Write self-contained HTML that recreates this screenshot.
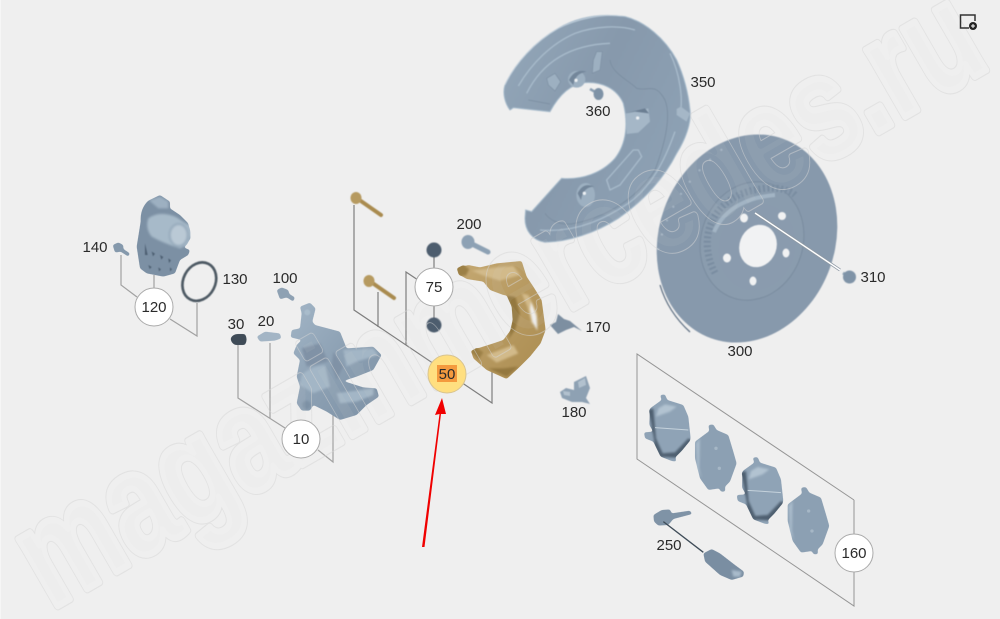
<!DOCTYPE html>
<html><head><meta charset="utf-8"><style>
html,body{margin:0;padding:0;background:#efefef}
svg{display:block}
text{font-family:"Liberation Sans",sans-serif;font-size:15px;fill:#2a2a2a;text-anchor:middle}
.l{fill:none;stroke:#a2a2a2;stroke-width:1.2}
.d{fill:none;stroke:#7e7e7e;stroke-width:1.2}
.p{fill:none;stroke:#959595;stroke-width:1}
.c{fill:#fff;stroke:#aaa;stroke-width:1}
.wm{font-size:146px;font-weight:bold;text-anchor:start;stroke-linejoin:round}
</style></head><body>
<svg width="1000" height="619" viewBox="0 0 1000 619" xmlns="http://www.w3.org/2000/svg">
<defs>
<linearGradient id="b" x1="0" y1="0" x2="1" y2="1"><stop offset="0" stop-color="#a2b5c6"/><stop offset=".5" stop-color="#8ca0b3"/><stop offset="1" stop-color="#7d91a5"/></linearGradient>
<linearGradient id="g" x1="0" y1="0" x2="1" y2="1"><stop offset="0" stop-color="#c4a872"/><stop offset="1" stop-color="#ab8c50"/></linearGradient>
<linearGradient id="sh" x1="0" y1="0" x2="1" y2="0.6"><stop offset="0" stop-color="#94a8ba"/><stop offset=".5" stop-color="#8799ac"/><stop offset="1" stop-color="#8ea2b5"/></linearGradient>
<filter id="s" x="-10%" y="-10%" width="120%" height="120%" color-interpolation-filters="sRGB"><feGaussianBlur stdDeviation="0.5"/></filter>
<filter id="sm" x="-15%" y="-15%" width="130%" height="130%" color-interpolation-filters="sRGB"><feGaussianBlur stdDeviation="1"/><feComponentTransfer><feFuncA type="linear" slope="5" intercept="-2"/></feComponentTransfer></filter>
<mask id="wmk" maskUnits="userSpaceOnUse" x="0" y="0" width="1000" height="619">
<rect width="1000" height="619" fill="#000"/>
<text class="wm" transform="translate(50.5 610) rotate(-30)" textLength="1088" lengthAdjust="spacingAndGlyphs" fill="#fff" stroke="#fff" stroke-width="9">magazinmercedes.ru</text>
<text class="wm" transform="translate(50.5 610) rotate(-30)" textLength="1088" lengthAdjust="spacingAndGlyphs" fill="#000" stroke="#000" stroke-width="6.8">magazinmercedes.ru</text>
</mask>
</defs>
<rect width="1000" height="619" fill="#efefef"/>
<rect width="1" height="619" fill="#f6f6f6"/>

<!-- connector lines -->
<path class="l" d="M121 255V285L137 297M154 275V290M170 319L197 336V303"/>
<path class="l" d="M238 345V398L285 428M270 343V418M318 450L333 462V413"/>
<path class="d" d="M354 205V310L492 403V372M378 292V327M406 345V272L418 280M434 250V325"/>
<path class="p" d="M854 500L637 354V459L854 606V500"/>

<!-- shield 350 -->
<g filter="url(#s)"><g transform="translate(495 10) scale(.3333)">
<path fill="url(#sh)" stroke="#a4b9ca" stroke-width="3" d="M45 300C30 280 22 250 30 225 60 160 120 95 190 55 250 20 320 10 390 20 450 35 510 85 545 150 565 195 580 250 585 300 590 340 570 390 545 430 510 500 450 570 370 625 300 670 220 695 150 697 110 690 90 660 90 625L92 600 110 605 200 505C260 510 320 490 360 445 395 400 400 340 385 280 365 235 320 215 270 218 230 222 195 250 165 305L55 293Z"/>
<path fill="none" stroke="#a8bbcb" stroke-width="4" d="M70 228C110 160 170 100 240 70 300 48 370 45 420 60M95 250C140 160 220 105 345 100M525 130C555 190 565 270 555 310M135 660C250 670 340 620 400 580 470 530 510 450 540 365"/>
<path fill="none" stroke="#7a8da0" stroke-width="2.500" d="M345 150C350 190 400 210 425 235 460 245 480 215 510 270 530 320 510 400 480 480 430 560 340 620 240 640 190 650 160 625 150 610M100 270L165 282"/>
<path fill="#9db0c1" stroke="#7c8fa2" stroke-width="2" d="M155 205L180 190 197 215 180 243 160 225ZM305 125L322 125 315 180 292 190 295 150Z"/>
<ellipse cx="245" cy="208" rx="26" ry="25" fill="#9db0c1"/><path fill="#73869a" d="M222 210Q240 175 275 185 240 190 235 225Z"/><circle cx="243" cy="211" r="5" fill="#eef1f4"/>
<path fill="#a5b7c7" d="M393 310L460 295 465 335 430 368 395 372Z"/><path fill="#6b7e92" d="M393 310L450 295 462 310 420 305Z"/><circle cx="428" cy="324" r="5" fill="#eef1f4"/>
<ellipse cx="272" cy="555" rx="28" ry="36" fill="#9db0c1"/><path fill="#73869a" d="M248 550Q265 515 298 530 265 530 258 570Z"/><circle cx="268" cy="550" r="5" fill="#eef1f4"/>
<path fill="none" stroke="#a8bbcb" stroke-width="4" d="M415 420L335 510 345 540 375 525 440 440 430 420Z"/>
<path fill="#a5b7c7" d="M545 297L558 290 585 310 575 335 545 315Z"/>
<path fill="none" stroke="#c2d0dc" stroke-width="2.500" d="M30 225C60 160 120 95 190 55 250 25 320 12 380 18"/>
</g></g>
<!-- 360 screw -->
<g filter="url(#s)"><path stroke="#8a9eb1" stroke-width="2.500" d="M590 89L597 93"/><ellipse cx="598.500" cy="94" rx="5" ry="6" fill="#7e92a6"/></g>

<!-- disc 300 -->
<g filter="url(#s)">
<ellipse cx="747" cy="238.500" rx="88" ry="106" transform="rotate(20 747 238.500)" fill="#8799ac"/>
<path fill="none" stroke="#5c6d80" stroke-width="1.200" d="M660 285Q668 312 690 332"/>
<path fill="none" stroke="#a6b6c5" stroke-width="2" stroke-dasharray="2 13" d="M658 250Q670 190 725 147"/>
<ellipse cx="752" cy="241" rx="51" ry="60" transform="rotate(18 752 241)" fill="#8a9cae" stroke="#7a8c9f"/>
<path fill="none" stroke="#7a8da1" stroke-width="7" stroke-dasharray="2 2.500" d="M715 273C695 235 715 195 760 189 775 186 790 190 795 195"/>
<path fill="none" stroke="#a2b4c4" stroke-width="4" d="M714 232C725 207 750 197 775 195"/>
<ellipse cx="757" cy="247" rx="38" ry="44" transform="rotate(18 757 247)" fill="#8a9bae"/>
<ellipse cx="758" cy="246" rx="18.500" ry="21.500" transform="rotate(20 758 246)" fill="#f1f2f3"/>
<ellipse cx="744" cy="218" rx="4" ry="4.500" fill="#f1f2f3"/><ellipse cx="782" cy="216" rx="4" ry="4" fill="#f1f2f3"/>
<ellipse cx="727" cy="258" rx="4" ry="4.500" fill="#f1f2f3"/><ellipse cx="786" cy="253" rx="3.500" ry="4.500" fill="#f1f2f3"/><ellipse cx="753" cy="281" rx="3.500" ry="4.500" fill="#f1f2f3"/>
</g>
<path d="M755 213L840 270" stroke="#8f9aa5" stroke-width="3" fill="none"/>
<path d="M755 213L840 270" stroke="#fff" stroke-width="1.400" fill="none"/>
<g filter="url(#s)"><path stroke="#8a9eb1" stroke-width="3" d="M843 273L848 276"/><circle cx="849.500" cy="277" r="6.500" fill="#7f93a7"/></g>

<!-- actuator 120 and small parts -->
<g filter="url(#sm)"><g transform="translate(80 180) scale(.3333)">
<path fill="#7c90a4" d="M182 125Q180 85 205 62L240 45 270 65 270 85 300 105 325 130 332 175 312 203 330 210 325 225 300 240 285 280 250 290 200 280 180 265 170 200Z"/>
<path fill="#a7bac9" d="M205 115Q240 90 290 112L325 135Q340 165 320 195L300 205Q250 190 215 170 195 145 205 115Z"/>
<ellipse cx="296" cy="165" rx="27" ry="33" fill="#bac9d5" stroke="#92a6b8" stroke-width="5"/>
<path fill="#9db0c1" d="M208 62L240 50 265 65 265 85 235 85Z"/>
<path fill="#8599ac" d="M98 195L115 187 130 195 130 207 150 220 145 230 122 215 105 218Z"/>
<path fill="#8ea1b3" d="M590 330L605 322 625 330 628 342 645 352 640 365 620 352 600 358Z"/>
<path fill="#3f4b57" d="M452 475Q456 465 470 462L495 462Q505 478 495 495L465 495Q452 488 452 475Z"/>
<path fill="#a3b5c5" d="M530 470L555 455 600 460 604 475 585 482 540 485Z"/>
<!-- caliper -->
<path fill="url(#b)" d="M660 380L690 368 707 385 697 425 705 435 780 455 800 505 880 500 905 525 880 570 830 590 790 603 850 622 890 625 897 650 860 675 830 705 780 720 740 695 700 675 690 692 665 692 650 670 660 620 650 590 660 540 640 520 650 495 665 480 632 472 635 450 660 445 665 400Z"/>
<path fill="#a3b6c6" d="M665 585Q690 560 735 555L750 620 700 640 660 615ZM770 640L880 625 880 645 830 665 780 670ZM790 510L880 505 895 525 830 545 800 560Z"/>
<path fill="#8092a6" d="M665 505L720 490 745 545 680 560ZM760 515L790 560 770 600 755 560Z"/>
<circle cx="680" cy="675" r="13" fill="#7d91a5"/>
</g></g>
<g filter="url(#s)"><g transform="translate(80 180) scale(.3333)">
<path fill="#4d5f72" d="M195 190l8 35-8 0zM215 215l10 6-6 8zM240 225l10 6-6 8zM265 235l8 6-6 8zM205 255l10 6-6 6zM235 262l8 6-6 6zM270 262l6 6-6 6z"/>
<ellipse cx="358" cy="305" rx="48" ry="60" transform="rotate(27 358 305)" fill="none" stroke="#4d5963" stroke-width="8"/>
<circle cx="682" cy="397" r="9" fill="#a9bccb"/>
</g></g>

<!-- bolts 50 / nuts / 200 -->
<g filter="url(#s)" stroke-linecap="round">
<path stroke="#a98b4f" stroke-width="4" d="M358 199L381 215M371 282L394 298"/>
<ellipse cx="356" cy="198" rx="5.500" ry="6" fill="#b69a60"/><ellipse cx="369" cy="281" rx="5.500" ry="6" fill="#b69a60"/>
<circle cx="434" cy="250" r="7.500" fill="#4d5d6e"/><circle cx="434" cy="325" r="7.500" fill="#4d5d6e"/>
<path stroke="#8da1b4" stroke-width="5" d="M472 244L488 252"/><ellipse cx="468" cy="242" rx="6.500" ry="7" fill="#8da1b4"/>
</g>

<!-- bracket -->
<g filter="url(#sm)"><g transform="translate(340 180) scale(.3333)">
<path fill="url(#g)" d="M352 265L385 255 420 262 470 250 545 243 560 290 580 320 605 360 617 450 602 490 570 530 540 560 500 597 440 570 400 535 393 512 420 503 460 490 490 480 520 440 535 400 525 350 490 345 450 330 430 305 380 297 355 282Z"/>
<path fill="#d2ba8a" d="M395 272L470 262 520 258 540 285 480 302 430 287ZM545 340L565 345 592 400 592 440 575 430 562 380ZM440 525L520 495 535 520 470 548Z"/>
<path fill="#efefef" d="M573 365L590 410 592 452 577 425 570 388Z"/>
<path fill="#94783f" d="M500 347L527 352 540 400 525 450 505 478 518 420 515 380ZM445 565L500 590 535 560 490 565Z"/>
<path fill="#9c8046" d="M350 265l20-10 18 12-10 20-20 0zM392 515l18-12 20 14-14 22z"/>
</g></g>

<!-- clips 170 180 -->
<g filter="url(#s)">
<path fill="#7d8fa1" d="M550 325L556 322 558 314 564 319 570 321 582 331 574 327 566 330 558 334Z"/>
<path fill="#8ea1b3" d="M560 392L566 388 574 390 574 382 586 376 590 388 586 398 590 404 582 402 572 402 562 398Z"/>
<path fill="#b2c1ce" d="M563 391L570 392 570 396 564 395ZM578 382L585 378 586 385 579 388Z"/>
</g>

<!-- pads -->
<g filter="url(#sm)"><g transform="translate(620 345) scale(.3333)">
<path fill="#8fa3b6" d="M90 190L125 165 120 150 135 148 142 165 190 180 205 215 212 280 185 315 165 335 170 350 155 348 122 335 105 300 100 290 75 280 72 262 100 260 88 240Z"/>
<path fill="#4e5f70" d="M87 195L100 190 108 280 128 325 165 322 205 280 212 285 185 318 165 338 122 335 105 300Z"/>
<path fill="#b2c3d1" d="M108 215L115 190 135 178 170 185 150 200Z"/>
<path fill="#8ca0b3" d="M225 290L268 258 265 240 280 238 290 255 325 270 340 320 350 355 330 410 315 425 316 440 302 440 298 430 265 435 240 400 225 340Z"/>
<path fill="#a9bbcb" d="M228 295L240 280 238 370 245 400 232 370Z"/>
<g transform="translate(278 188)">
<path fill="#8fa3b6" d="M90 190L125 165 120 150 135 148 142 165 190 180 205 215 212 280 185 315 165 335 170 350 155 348 122 335 105 300 100 290 75 280 72 262 100 260 88 240Z"/>
<path fill="#4e5f70" d="M87 195L100 190 108 280 128 325 165 322 205 280 212 285 185 318 165 338 122 335 105 300Z"/>
<path fill="#b2c3d1" d="M108 215L115 190 135 178 170 185 150 200Z"/>
<path fill="#8ca0b3" d="M225 290L268 258 265 240 280 238 290 255 325 270 340 320 350 355 330 410 315 425 316 440 302 440 298 430 265 435 240 400 225 340Z"/>
<path fill="#a9bbcb" d="M228 295L240 280 238 370 245 400 232 370Z"/>
</g>
<path fill="#7f93a6" d="M100 510L125 495 150 493 155 505 210 497 217 507 160 522 145 540 115 542 102 530Z"/>
<path fill="#7a8ea2" d="M250 625L275 612 300 625 345 660 372 680 370 695 335 705 300 690 255 650Z"/>
<path fill="#a9bbcb" d="M335 675L365 680 360 695 340 695Z"/>
</g></g>
<g transform="translate(620 345) scale(.3333)" filter="url(#s)">
<path fill="none" stroke="#c5d2dc" stroke-width="3" d="M105 248L205 255M383 436L483 443"/>
<circle cx="288" cy="310" r="5" fill="#a6b7c6"/><circle cx="298" cy="370" r="5" fill="#a6b7c6"/><circle cx="566" cy="498" r="5" fill="#a6b7c6"/><circle cx="576" cy="558" r="5" fill="#a6b7c6"/>
<path fill="none" stroke="#3f4c58" stroke-width="4" d="M130 530L250 622"/>
</g>

<!-- watermark overlay -->
<rect width="1000" height="619" fill="#d6d6d6" fill-opacity=".5" mask="url(#wmk)"/>

<!-- balloons -->
<circle class="c" cx="154" cy="307" r="19"/>
<circle class="c" cx="301" cy="439" r="19"/>
<circle class="c" cx="434" cy="287" r="19"/>
<circle class="c" cx="854" cy="553" r="19"/>
<circle cx="447" cy="374" r="19" fill="#ffdf80" stroke="#d8c490"/>
<rect x="437" y="365" width="20" height="17" fill="#f49a3e"/>

<text x="154" y="312">120</text><text x="301" y="444">10</text><text x="434" y="292">75</text><text x="447" y="379">50</text><text x="854" y="558">160</text>
<text x="95" y="252">140</text><text x="235" y="284">130</text><text x="285" y="283">100</text><text x="236" y="329">30</text><text x="266" y="326">20</text>
<text x="469" y="229">200</text><text x="598" y="332">170</text><text x="574" y="417">180</text>
<text x="703" y="87">350</text><text x="598" y="116">360</text><text x="740" y="356">300</text><text x="873" y="282">310</text><text x="669" y="550">250</text>

<!-- red arrow -->
<path fill="#f00000" d="M422 547L424.500 547 441 414 446 414 442 398 435 415 439.500 414Z"/>

<!-- icon -->
<path fill="none" stroke="#333" stroke-width="1.500" d="M975 21V15H960.500V28H969"/>
<circle cx="973" cy="26" r="4" fill="#222"/>
<path stroke="#fff" d="M971 26h4M973 24v4"/>
</svg>
</body></html>
